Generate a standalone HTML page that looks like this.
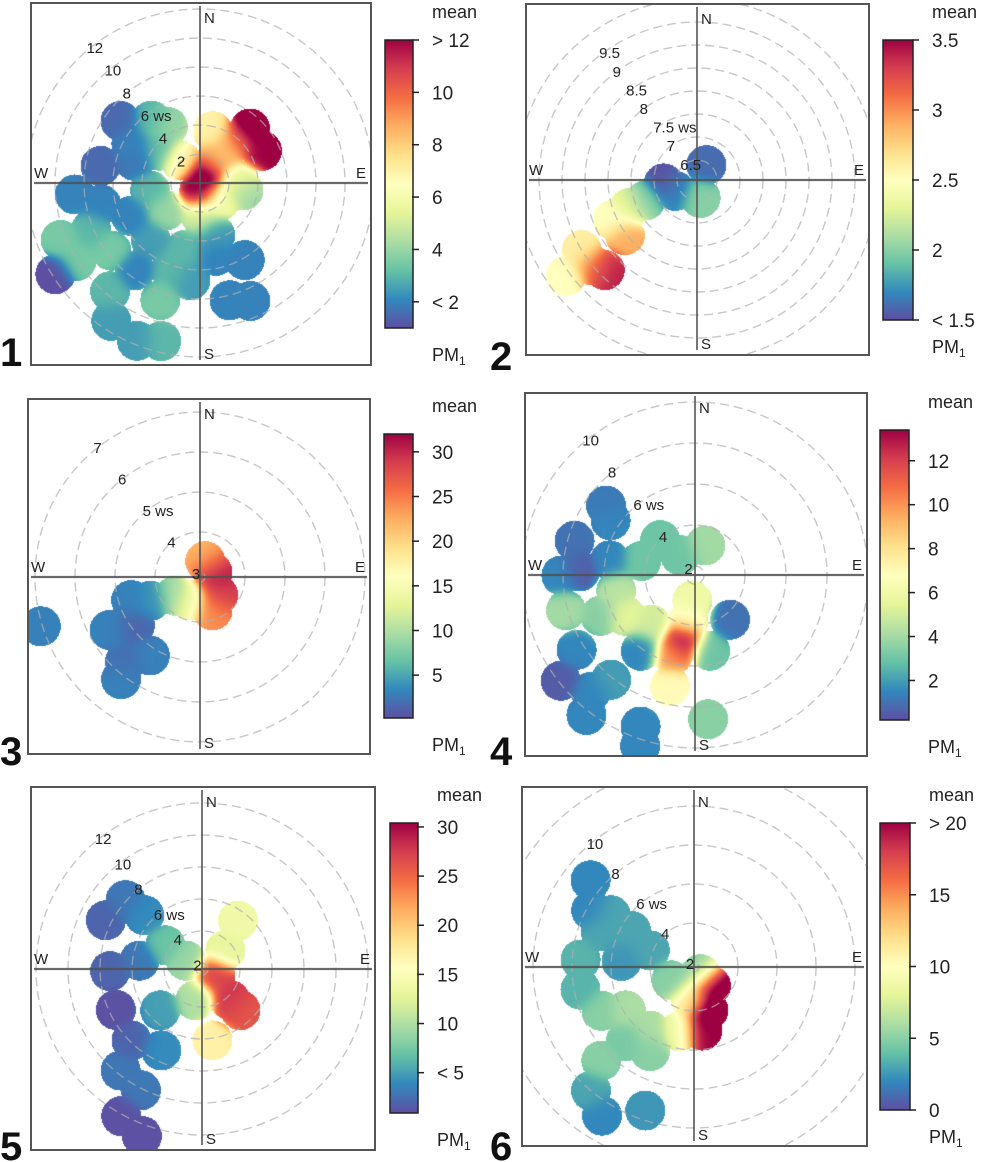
<!DOCTYPE html>
<html><head><meta charset="utf-8"><style>
html,body{margin:0;padding:0;background:#fff;}
#wrap{position:relative;width:986px;height:1162px;}
#surf{position:absolute;left:0;top:0;}
svg{position:absolute;left:0;top:0;display:block;font-family:"Liberation Sans",sans-serif;}
</style></head><body>
<div id="wrap">
<canvas id="surf" width="986" height="1162"></canvas>
<svg id="fig" width="986" height="1162" viewBox="0 0 986 1162">
<defs></defs>
</svg>
</div>
<script>
// Panel 1 data
const p1Dir=[42,62,41,32,190,33,319,130,85,99,13,308,322,280,289,309,265,247,238,238,245,232,233,217,199,213,202,194,164,150,166,157,193,180,186,258,330,300,221,199,220,248,168,262,37];
const p1Ws=[5.1,4.8,3.9,0.6,0.6,1.9,2.1,1.8,2.6,3,3.7,7,5.5,7,4.8,3.6,8.7,8.2,10.1,11.8,5.3,3,7.7,7.5,8.5,11.3,11.7,11.2,3.7,6.1,8.3,8.8,4.7,2.2,6.7,7,4.5,5.5,5.2,6.3,9.7,10.4,5.1,3.5,2.8];
const p1Val=[13,12,10,13,12,9,7,6,6,4,7,1.5,3,1.5,1.8,3,2,3,3.5,1,2,4,3.5,2,3.5,2.5,2.5,3,2.5,2,2,2,3,5,2.5,2,4,2,2.5,3,3,3.5,2,3,8];
const p1Ticks=[2,4,6,8,10,12];
const p1TickLabels=["< 2","4","6","8","10","> 12"];
const p1Rings=[2,4,6,8,10,12];
const p1RingLabels=["2","4","6 ws","8","10","12"];
// Panel 2 data
const p2Dir=[30,170,265,245,249,248,245,233,239,234,231,226];
const p2Ws=[6.45,6.45,6.8,6.6,7.28,7.67,8.1,8.04,9.0,9.6,9.0,8.87];
const p2Val=[1.6,2.0,1.5,1.7,2.0,2.3,2.5,2.9,2.6,2.5,3.0,3.4];
const p2Ticks=[1.5,2,2.5,3,3.5];
const p2TickLabels=["< 1.5","2","2.5","3","3.5"];
const p2Rings=[6.5,7,7.5,8,8.5,9,9.5,10];
const p2RingLabels=["6.5","7","7.5 ws","8","8.5","9","9.5",""];
// Panel 3 data
const p3Dir=[16,67,135,160,204,234,245,252,234,240,222,218,213,253];
const p3Ws=[3.3,3.2,3.5,3.75,3.5,3.65,4.25,4.7,4.9,5.5,5.7,6.1,5.2,7.05];
const p3Val=[22,31,29,24,15,9,4,3,1.5,3,2,3,3,3];
const p3Ticks=[5,10,15,20,25,30];
const p3TickLabels=["5","10","15","20","25","30"];
const p3Rings=[3,4,5,6,7];
const p3RingLabels=["3","4","5 ws","6","7"];
// Panel 4 data
const p4Dir=[18,189,187,190,196,193,142,169,222,240,247,255,270,272,280,285,303,308,315,323,286,238,232,222,218,219,216,200,198,175,259];
const p4Ws=[3.1,3.8,2.8,4.8,5.6,7.1,4.3,5.3,4.8,5.5,6.6,8.1,8.1,7.2,5.8,4.3,6.5,7.1,4,2.8,7.7,8.4,9.9,9.2,10.2,8.1,6.1,9.4,10.3,8.6,5.5];
const p4Val=[4,7,6,13.4,10,7,1,3,5,5.5,3.5,4,1.5,0.5,1.5,3,1.5,1.2,3,3,1,1.5,0.5,1.5,1.5,2,1.5,1.5,1.5,3.5,4.5];
const p4Ticks=[2,4,6,8,10,12];
const p4TickLabels=["2","4","6","8","10","12"];
const p4Rings=[2,4,6,8,10];
const p4RingLabels=["2","4","6 ws","8","10"];
// Panel 5 data
const p5Dir=[36,50,115,138,137,172,193,298,303,313,312,297,269,278,245,225,219,207,226,207,209,200];
const p5Ws=[5.4,3.5,2.5,4.2,5.1,6.1,3.6,2.8,4.4,6.6,8.1,8.4,7.4,5.6,7.6,7.9,9.75,7.3,5.3,10.1,12.1,12.7];
const p5Val=[14,13,27,28,26,17,10,9,7,4,3,2,2,3,1,2,3,4,5,3,1,1];
const p5Ticks=[5,10,15,20,25,30];
const p5TickLabels=["< 5","10","15","20","25","30"];
const p5Rings=[2,4,6,8,10,12];
const p5RingLabels=["2","4","6 ws","8","10","12"];
// Panel 6 data
const p6Dir=[139,138,162,173,187,193,241,215,208,238,245,259,274,275,291,291,302,299,310,300,225,220,212,199,223];
const p6Ws=[2.2,3.0,4.05,5.0,3.4,5.1,3.1,5.7,6.6,5.9,7.0,7.7,7.6,5.5,4.2,6.9,6.8,7.8,8.7,5.5,8.5,10,10.7,9.5,6.9];
const p6Val=[5,22,22,20,11,9,5,6,5,6,5,3.5,3.5,2.5,3,3,3,2,2,3,5,3,2,2.5,4.5];
const p6Ticks=[0,5,10,15,20];
const p6TickLabels=["0","5","10","15","> 20"];
const p6Rings=[2,4,6,8,10,12];
const p6RingLabels=["2","4","6 ws","8","10",""];

const STOPS=["#5E4FA2","#3288BD","#66C2A5","#ABDDA4","#E6F598","#FFFFBF","#FEE08B","#FDAE61","#F46D43","#D53E4F","#9E0142"];
function hex(h){return [parseInt(h.substr(1,2),16),parseInt(h.substr(3,2),16),parseInt(h.substr(5,2),16)];}
const STOPRGB=STOPS.map(hex);
function rgbAt(t){
  t=Math.max(0,Math.min(1,t));const n=STOPS.length-1;const i=Math.min(n-1,Math.floor(t*n));const f=t*n-i;
  const a=STOPRGB[i],b=STOPRGB[i+1];
  return a.map((v,k)=>Math.round(v+(b[k]-v)*f));
}
function colorAt(t){return "rgb("+rgbAt(t).join(",")+")";}
const NS="http://www.w3.org/2000/svg";
const svg=document.getElementById("fig");
const ctx=document.getElementById("surf").getContext("2d");
function mk(tag,attrs,parent){const e=document.createElementNS(NS,tag);for(const k in attrs)e.setAttribute(k,attrs[k]);(parent||svg).appendChild(e);return e;}

const panels=[
 {id:1,dir:p1Dir,ws:p1Ws,val:p1Val,ticks:p1Ticks,tl:p1TickLabels,rings:p1Rings,rl:p1RingLabels,fx:31,fy:3,fw:340,fh:362,cx:200,cy:183,a:0,b:14.5,la:38.6,
  cb:{x:385,y:40,w:28,h:288,min:1,max:12},num:{x:0,y:366}},
 {id:2,dir:p2Dir,ws:p2Ws,val:p2Val,ticks:p2Ticks,tl:p2TickLabels,rings:p2Rings,rl:p2RingLabels,fx:526,fy:4,fw:343,fh:351,cx:697,cy:180,a:20-46*6.5,b:46,la:36,
  cb:{x:883,y:40,w:30,h:280,min:1.5,max:3.5},num:{x:490,y:370}},
 {id:3,dir:p3Dir,ws:p3Ws,val:p3Val,ticks:p3Ticks,tl:p3TickLabels,rings:p3Rings,rl:p3RingLabels,fx:28,fy:399,fw:342,fh:355,cx:200,cy:577,a:-115,b:40,la:38,
  cb:{x:384,y:434,w:29,h:284,min:0.2,max:32},num:{x:0,y:765}},
 {id:4,dir:p4Dir,ws:p4Ws,val:p4Val,ticks:p4Ticks,tl:p4TickLabels,rings:p4Rings,rl:p4RingLabels,fx:525,fy:393,fw:342,fh:363,cx:695,cy:575,a:-32,b:20.5,la:38.5,
  cb:{x:880,y:430,w:29,h:290,min:0.2,max:13.4},num:{x:490,y:765}},
 {id:5,dir:p5Dir,ws:p5Ws,val:p5Val,ticks:p5Ticks,tl:p5TickLabels,rings:p5Rings,rl:p5RingLabels,fx:31,fy:787,fw:344,fh:363,cx:202,cy:969,a:-26,b:16,la:38,
  cb:{x:390,y:823,w:28,h:290,min:0.9,max:30.4},num:{x:0,y:1160}},
 {id:6,dir:p6Dir,ws:p6Ws,val:p6Val,ticks:p6Ticks,tl:p6TickLabels,rings:p6Rings,rl:p6RingLabels,fx:522,fy:787,fw:345,fh:359,cx:694,cy:967,a:-34,b:19.5,la:39.5,
  cb:{x:880,y:823,w:30,h:287,min:0,max:20},num:{x:490,y:1160}}
];

panels.forEach(p=>{
  const rScale=ws=>Math.max(0,p.a+p.b*ws);
  const px=(d,ws)=>p.cx+rScale(ws)*Math.sin(d*Math.PI/180);
  const py=(d,ws)=>p.cy-rScale(ws)*Math.cos(d*Math.PI/180);
  const tScale=v=>(v-p.cb.min)/(p.cb.max-p.cb.min);
  const R=20,S=10;
  const pts=p.dir.map((d,i)=>[px(d,p.ws[i]),py(d,p.ws[i]),p.val[i]]);
  const img=ctx.createImageData(p.fw,p.fh);
  for(let y=0;y<p.fh;y++){for(let x=0;x<p.fw;x++){
    const X=p.fx+x,Y=p.fy+y;let inside=false,sw=0,sv=0;
    for(const q of pts){const dx=X-q[0],dy=Y-q[1],d2=dx*dx+dy*dy;if(d2<R*R)inside=true;const w=Math.exp(-d2/(2*S*S))+1e-12;sw+=w;sv+=w*q[2];}
    if(!inside)continue;
    const c=rgbAt(tScale(sv/sw));const o=(y*p.fw+x)*4;
    img.data[o]=c[0];img.data[o+1]=c[1];img.data[o+2]=c[2];img.data[o+3]=255;
  }}
  ctx.putImageData(img,p.fx,p.fy);

  const g=mk("g",{});
  
  
  const fc=mk("clipPath",{id:"frame"+p.id},svg.querySelector("defs"));
  mk("rect",{x:p.fx,y:p.fy,width:p.fw,height:p.fh},fc);
  const rg=mk("g",{"clip-path":"url(#frame"+p.id+")"},g);
  
  
  p.rings.forEach(w=>{
    const c=mk("circle",{cx:p.cx,cy:p.cy,r:rScale(w),fill:"none",stroke:"rgba(175,175,175,0.7)","stroke-width":1.4,"stroke-dasharray":"9,5"},rg);
    
    
  });
  const h=mk("line",{x1:p.fx+3,x2:p.fx+p.fw-3,y1:p.cy,y2:p.cy,stroke:"rgba(80,80,80,0.85)","stroke-width":2.2},g);
  
  
  const v=mk("line",{x1:p.cx,x2:p.cx,y1:p.fy+3,y2:p.fy+p.fh-5,stroke:"#555","stroke-width":1.6},g);
  
  
  const fr=mk("rect",{x:p.fx,y:p.fy,width:p.fw,height:p.fh,fill:"none",stroke:"#555","stroke-width":2},g);
  
  
  const T=(txt,x,y,sz,name,anchor,extra)=>{const t=mk("text",Object.assign({x:x,y:y,"font-size":sz,fill:"#222","text-anchor":anchor||"start"},extra||{}),g);t.textContent=txt;return t;};
  T("N",p.cx+4,p.fy+20,15,"north-label");
  T("S",p.cx+4,p.fy+p.fh-6,15,"south-label");
  T("W",p.fx+3,p.cy-5,15,"west-label");
  T("E",p.fx+p.fw-15,p.cy-5,15,"east-label");
  p.rings.forEach((w,i)=>{
    if(!p.rl[i])return;
    const r=rScale(w);const a=p.la*Math.PI/180;
    T(p.rl[i],p.cx-r*Math.sin(a)-5,p.cy-r*Math.cos(a)+6,15,"ring-label-"+w);
  });
  const cb=p.cb;
  const gid="grad"+p.id;
  const lg=mk("linearGradient",{id:gid,x1:0,y1:1,x2:0,y2:0},svg.querySelector("defs"));
  for(let k=0;k<=20;k++){mk("stop",{offset:k/20,"stop-color":colorAt(k/20)},lg);}
  const cbr=mk("rect",{x:cb.x,y:cb.y,width:cb.w,height:cb.h,fill:"url(#"+gid+")",stroke:"#222","stroke-width":1.5},g);
  
  
  const cy=v=>cb.y+cb.h-(v-cb.min)/(cb.max-cb.min)*cb.h;
  p.ticks.forEach((tv,i)=>{
    const y=cy(tv);
    mk("line",{x1:cb.x+cb.w-1,x2:cb.x+cb.w+6,y1:y,y2:y,stroke:"#222","stroke-width":1.5},g);
    T(p.tl[i],cb.x+cb.w+19,y+7,19,"colorbar-tick-"+p.tl[i]);
  });
  T("mean",cb.x+cb.w+19,cb.y-22,18,"colorbar-title");
  const pm=T("PM",cb.x+cb.w+19,cb.y+cb.h+33,18,"colorbar-variable");
  const sub=document.createElementNS(NS,"tspan");sub.setAttribute("font-size","12");sub.setAttribute("dy","4");sub.textContent="1";pm.appendChild(sub);
  T(String(p.id),p.num.x,p.num.y,40,"panel-number","start",{"font-weight":"bold",fill:"#111"});
});
</script>
</body></html>
